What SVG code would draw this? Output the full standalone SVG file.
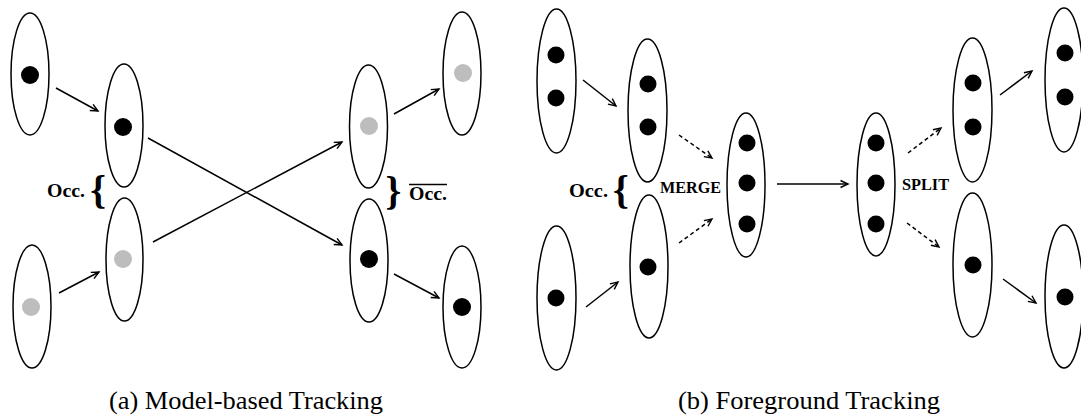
<svg xmlns="http://www.w3.org/2000/svg" width="1081" height="418" viewBox="0 0 1081 418">
<style>
.e{fill:#fff;stroke:#000;stroke-width:1.5}
.k{fill:#000}
.g{fill:#bdbdbd}
.a{stroke:#000;stroke-width:1.5;fill:none;marker-end:url(#ah)}
.d{stroke-dasharray:4 3}
.lb{font-family:"Liberation Serif","Times New Roman",serif;font-weight:bold;fill:#000}
.cap{font-family:"Liberation Serif","Times New Roman",serif;font-size:25px;fill:#000}
</style>
<defs>
<marker id="ah" markerUnits="userSpaceOnUse" markerWidth="12" markerHeight="12" refX="8" refY="4" orient="auto" overflow="visible">
<path d="M0.5,0.5 L8,4 L0.5,7.5" fill="none" stroke="#000" stroke-width="1.4"/>
</marker>
</defs>
<rect width="1081" height="418" fill="#fff"/>
<g id="connectors">
<line class="a" x1="56" y1="88" x2="98" y2="111"/>
<line class="a" x1="59" y1="293" x2="99" y2="272"/>
<line class="a" x1="148" y1="138" x2="342" y2="245"/>
<line class="a" x1="153" y1="242" x2="342" y2="142"/>
<line class="a" x1="394" y1="114" x2="439" y2="89"/>
<line class="a" x1="394" y1="274" x2="439" y2="298"/>
<line class="a" x1="583" y1="80" x2="616" y2="106"/>
<line class="a" x1="586" y1="307" x2="618" y2="282"/>
<line class="a d" x1="679" y1="135" x2="712" y2="158"/>
<line class="a d" x1="679" y1="243" x2="712" y2="219"/>
<line class="a" x1="777" y1="184" x2="848" y2="184"/>
<line class="a d" x1="908" y1="153" x2="941" y2="128"/>
<line class="a d" x1="907" y1="223" x2="939" y2="247"/>
<line class="a" x1="1000" y1="95" x2="1032" y2="71"/>
<line class="a" x1="1003" y1="279" x2="1036" y2="303"/>
</g>
<g id="a1"><ellipse class="e" cx="30" cy="74" rx="19" ry="61"/><circle class="k" cx="30" cy="75" r="9"/></g>
<g id="a2"><ellipse class="e" cx="124" cy="125.5" rx="19" ry="61.5"/><circle class="k" cx="123" cy="127" r="9"/></g>
<g id="a3"><ellipse class="e" cx="124.5" cy="259.5" rx="18.5" ry="61.5"/><circle class="g" cx="123" cy="259" r="9"/></g>
<g id="a4"><ellipse class="e" cx="32" cy="306.5" rx="19" ry="61.5"/><circle class="g" cx="31" cy="307" r="9"/></g>
<g id="a5"><ellipse class="e" cx="368.5" cy="126.5" rx="19" ry="61.5"/><circle class="g" cx="369" cy="126" r="9"/></g>
<g id="a6"><ellipse class="e" cx="369" cy="260.5" rx="19" ry="61.5"/><circle class="k" cx="369" cy="259" r="9"/></g>
<g id="a7"><ellipse class="e" cx="462" cy="73.5" rx="19" ry="61.5"/><circle class="g" cx="463" cy="73" r="9"/></g>
<g id="a8"><ellipse class="e" cx="462" cy="307" rx="19" ry="61"/><circle class="k" cx="462" cy="307" r="9"/></g>
<g id="b1"><ellipse class="e" cx="556.5" cy="81" rx="19.5" ry="72"/><circle class="k" cx="556" cy="55" r="8.5"/><circle class="k" cx="556" cy="98" r="8.5"/></g>
<g id="b2"><ellipse class="e" cx="647.5" cy="110.5" rx="19.5" ry="71.5"/><circle class="k" cx="648" cy="84" r="8.5"/><circle class="k" cx="648" cy="127" r="8.5"/></g>
<g id="b3"><ellipse class="e" cx="649" cy="266.5" rx="19" ry="71.5"/><circle class="k" cx="648" cy="267" r="8.5"/></g>
<g id="b4"><ellipse class="e" cx="556.5" cy="298" rx="19.5" ry="72"/><circle class="k" cx="556" cy="298" r="8.5"/></g>
<g id="b5"><ellipse class="e" cx="746" cy="185" rx="19" ry="72"/><circle class="k" cx="747" cy="143" r="8.5"/><circle class="k" cx="747" cy="183" r="8.5"/><circle class="k" cx="747" cy="224" r="8.5"/></g>
<g id="b6"><ellipse class="e" cx="876" cy="184.5" rx="19" ry="71.5"/><circle class="k" cx="876" cy="143" r="8.5"/><circle class="k" cx="876" cy="183" r="8.5"/><circle class="k" cx="876" cy="224" r="8.5"/></g>
<g id="b7"><ellipse class="e" cx="972.5" cy="110" rx="19.5" ry="72"/><circle class="k" cx="973" cy="83" r="8.5"/><circle class="k" cx="973" cy="127" r="8.5"/></g>
<g id="b8"><ellipse class="e" cx="972.5" cy="265" rx="19.5" ry="72"/><circle class="k" cx="973" cy="265" r="8.5"/></g>
<g id="b9"><ellipse class="e" cx="1064" cy="80" rx="19" ry="72"/><circle class="k" cx="1065" cy="53" r="8.5"/><circle class="k" cx="1065" cy="97" r="8.5"/></g>
<g id="b10"><ellipse class="e" cx="1064" cy="296.5" rx="19" ry="71.5"/><circle class="k" cx="1065" cy="297" r="8.5"/></g>
<g id="labels">
<text class="lb" x="47" y="197" font-size="19" textLength="38" lengthAdjust="spacingAndGlyphs">Occ.</text>
<text class="lb" x="90.3" y="203.4" font-size="40">{</text>
<text class="lb" x="385.5" y="203.5" font-size="40">}</text>
<text class="lb" x="409" y="200" font-size="19" textLength="38" lengthAdjust="spacingAndGlyphs">Occ.</text>
<line x1="409" y1="184.5" x2="447" y2="184.5" stroke="#000" stroke-width="1.5"/>
<text class="lb" x="569" y="197" font-size="19" textLength="39" lengthAdjust="spacingAndGlyphs">Occ.</text>
<text class="lb" x="613" y="203" font-size="40">{</text>
<text class="lb" x="660" y="193" font-size="16" textLength="61" lengthAdjust="spacingAndGlyphs">MERGE</text>
<text class="lb" x="902" y="190" font-size="16" textLength="47" lengthAdjust="spacingAndGlyphs">SPLIT</text>
<text class="cap" x="109" y="409" textLength="274" lengthAdjust="spacingAndGlyphs">(a) Model-based Tracking</text>
<text class="cap" x="678" y="409" textLength="262" lengthAdjust="spacingAndGlyphs">(b) Foreground Tracking</text>
</g>
</svg>
